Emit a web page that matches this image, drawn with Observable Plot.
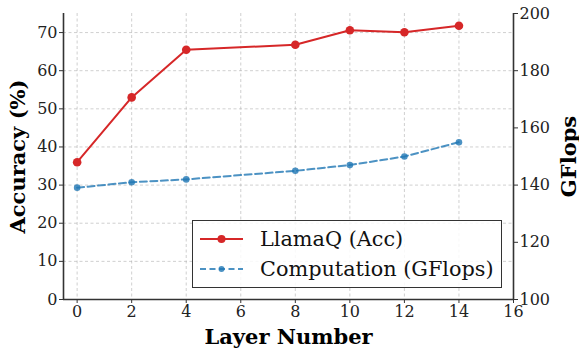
<!DOCTYPE html>
<html>
<head>
<meta charset="utf-8">
<script src="https://cdn.jsdelivr.net/npm/d3@7"></script>
<script src="https://cdn.jsdelivr.net/npm/@observablehq/plot@0.6"></script>
<style>
  html, body { margin: 0; padding: 0; background: #fff; }
  #wrap { position: relative; width: 579px; height: 349px; font-family: "DejaVu Serif", serif; }
  g[aria-label="y-axis label"] text, g[aria-label="x-axis label"] text { font-weight: bold; font-size: 21px; fill: #000; }
  #legend { position: absolute; left: 192px; top: 220px; width: 310px; height: 68px; border: 1px solid #333; background: rgba(255,255,255,0.85); box-sizing: border-box; font-family: "DejaVu Serif", serif; font-size: 20.8px; color: #111; }
  .row { position: absolute; left: 0; height: 26px; display: flex; align-items: center; white-space: nowrap; }
  .row svg { margin-left: 6px; margin-right: 16px; }
</style>
</head>
<body>
<div id="wrap"></div>
<script>
const layers = [0, 2, 4, 8, 10, 12, 14];
const accuracy = [36.0, 53.0, 65.5, 66.8, 70.6, 70.1, 71.8];
const gflops = [139.1, 141.0, 142.0, 145.0, 147.0, 150.0, 155.0];
const xTicks = [0, 2, 4, 6, 8, 10, 12, 14, 16];
const accTicks = [0, 10, 20, 30, 40, 50, 60, 70];
const gfTicks = [100, 120, 140, 160, 180, 200];
const seriesNames = ["LlamaQ (Acc)", "Computation (GFlops)"];

// right axis [100,200] mapped onto left scale [0,75]
const toLeft = v => (v - 100) * 0.75;
const fromLeft = v => v / 0.75 + 100;

const accData = layers.map((l, i) => ({layer: l, v: accuracy[i]}));
const gfData = layers.map((l, i) => ({layer: l, v: toLeft(gflops[i])}));

const red = "#d62728";
const blue = "#1f77b4";
const spine = "#333";

const plot = Plot.plot({
  width: 579,
  height: 349,
  marginLeft: 63,
  marginRight: 66,
  marginTop: 13,
  marginBottom: 50,
  style: {fontFamily: "DejaVu Serif", fontSize: "16px", color: "#222", background: "#fff"},
  x: {domain: [-0.5, 16]},
  y: {domain: [0, 75]},
  marks: [
    Plot.gridX(xTicks.slice(0, -1), {stroke: "#b0b0b0", strokeOpacity: 0.6, strokeDasharray: "3,2.5"}),
    Plot.gridY(accTicks, {stroke: "#b0b0b0", strokeOpacity: 0.6, strokeDasharray: "3,2.5"}),
    Plot.ruleX([-0.5, 16], {stroke: spine, strokeWidth: 1.6}),
    Plot.ruleY([0], {stroke: spine, strokeWidth: 1.6}),
    Plot.axisX({ticks: xTicks, tickSize: 4, tickPadding: 2, stroke: spine, label: "Layer Number", labelAnchor: "center", labelArrow: "none", labelOffset: 44}),
    Plot.axisY({anchor: "left", ticks: accTicks, tickSize: 4, tickPadding: 2, stroke: spine, label: "Accuracy (%)", labelAnchor: "center", labelArrow: "none", labelOffset: 53}),
    Plot.axisY({anchor: "right", ticks: gfTicks.map(toLeft), tickFormat: d => String(Math.round(fromLeft(d))), tickSize: 4, tickPadding: 2, stroke: spine, label: "GFlops", labelAnchor: "center", labelArrow: "none", labelOffset: 62}),
    Plot.line(gfData, {x: "layer", y: "v", stroke: blue, strokeOpacity: 0.8, strokeWidth: 2, strokeDasharray: "7,3.5"}),
    Plot.dot(gfData, {x: "layer", y: "v", fill: blue, fillOpacity: 0.8, r: 3.3}),
    Plot.line(accData, {x: "layer", y: "v", stroke: red, strokeWidth: 2}),
    Plot.dot(accData, {x: "layer", y: "v", fill: red, r: 4.3})
  ]
});
const wrap = document.getElementById("wrap");
wrap.appendChild(plot);

// legend
const legend = document.createElement("div");
legend.id = "legend";
const rows = [
  {name: seriesNames[0], color: red, dash: null, r: 4, op: 1, top: 5},
  {name: seriesNames[1], color: blue, dash: "6,3.5", r: 3, op: 0.8, top: 35}
];
rows.forEach(s => {
  const row = document.createElement("div");
  row.className = "row";
  row.style.top = s.top + "px";
  const svg = d3.create("svg").attr("width", 45).attr("height", 24);
  svg.append("line").attr("x1", 1).attr("x2", 44).attr("y1", 12).attr("y2", 12)
    .attr("stroke", s.color).attr("stroke-width", 2).attr("stroke-opacity", s.op)
    .attr("stroke-dasharray", s.dash);
  svg.append("circle").attr("cx", 22.5).attr("cy", 12).attr("r", s.r).attr("fill", s.color).attr("fill-opacity", s.op);
  row.appendChild(svg.node());
  const t = document.createElement("span");
  t.textContent = s.name;
  row.appendChild(t);
  legend.appendChild(row);
});
wrap.appendChild(legend);
</script>
</body>
</html>
